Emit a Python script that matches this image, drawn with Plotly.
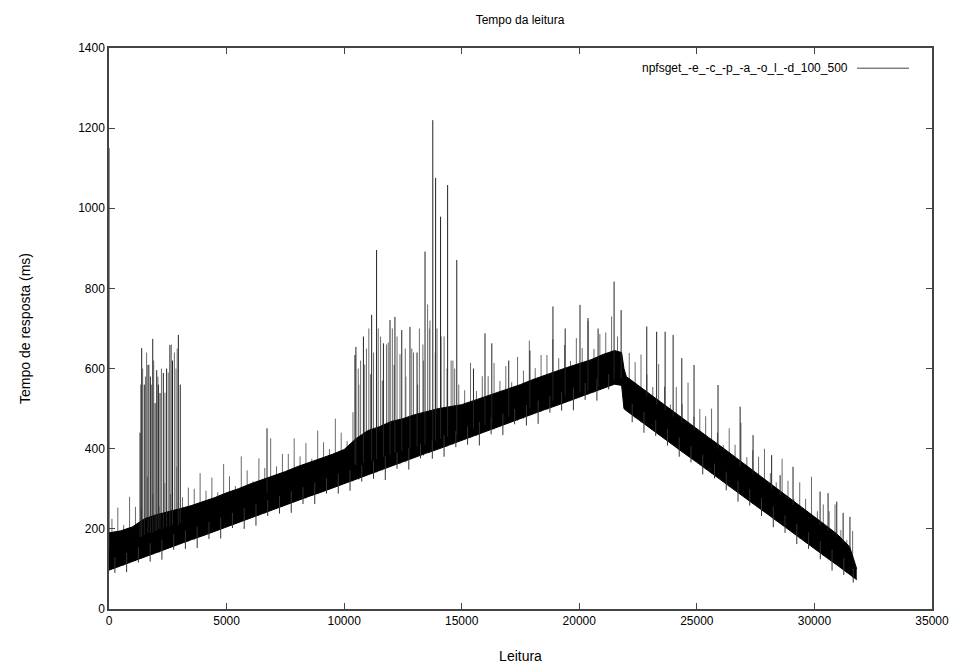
import plotly.graph_objects as go

# ---- data ----
band_x = [0, 500, 1000, 1500, 2000, 2500, 3000, 3500, 4000, 4500, 5000, 5500, 6000, 6500,
          7000, 7500, 8000, 8500, 9000, 9500, 10000, 10500, 11000, 11500, 12000, 12500,
          13000, 13500, 14000, 14500, 15000, 15500, 16000, 16500, 17000, 17500, 18000,
          18500, 19000, 19500, 20000, 20500, 21000, 21500, 21800, 21900, 22000, 22500,
          23000, 23500, 24000, 24500, 25000, 25500, 26000, 26500, 27000, 27500, 28000,
          28500, 29000, 29500, 30000, 30500, 31000, 31500, 31800]
band_low = [97, 108, 119, 129, 140, 151, 162, 173, 183, 194, 205, 216, 227, 237,
            248, 259, 270, 281, 291, 302, 313, 324, 335, 345, 356, 367,
            378, 389, 399, 410, 421, 432, 443, 453, 464, 475, 486,
            497, 507, 518, 529, 540, 551, 561, 558, 500, 495, 473,
            452, 430, 409, 387, 366, 344, 323, 301, 280, 258, 237,
            215, 194, 172, 151, 129, 108, 86, 73]
band_high = [190, 195, 205, 225, 235, 242, 250, 258, 268, 278, 290, 300, 312, 322,
             333, 343, 355, 365, 376, 386, 398, 425, 445, 455, 468, 475,
             485, 492, 500, 505, 510, 520, 530, 540, 550, 560, 572,
             583, 593, 603, 613, 622, 635, 645, 640, 600, 580, 558,
             538, 515, 494, 471, 450, 428, 407, 385, 364, 342, 320,
             298, 276, 254, 232, 208, 185, 155, 100]

# tall spikes: reading index, peak value, value at the band where the spike starts
spike_x = [0, 1320, 1390, 1500, 1660, 1760, 1860, 1960, 2030, 2100, 2170, 2310, 2450, 2590,
           2700, 2950, 3030, 6720, 10460, 10500, 10820, 11170, 11380, 11670, 11950, 12160,
           12450, 12800, 13100, 13440, 13770, 13890, 14100, 14400, 14790, 15500, 15990,
           16280, 17000, 17900, 18880, 19400, 20030, 20370, 20800, 21480, 21780, 22870,
           23290, 23650, 23990, 24360, 24880, 25900, 26840, 27390, 28180, 28540, 29090,
           30240, 30580, 30950, 31220, 31510]
spike_peak = [1150, 440, 651, 560, 609, 580, 674, 514, 596, 560, 539, 589, 600, 659,
              620, 684, 560, 451, 634, 654, 680, 734, 896, 663, 721, 729,
              696, 704, 640, 892, 1220, 1076, 979, 1058, 871, 600, 688,
              663, 620, 645, 755, 700, 759, 726, 700, 817, 746, 705,
              692, 692, 684, 626, 609, 559, 505, 434, 384, 334, 355,
              293, 289, 268, 240, 230]
spike_base = [150, 180, 180, 185, 190, 190, 190, 195, 195, 200, 200, 200, 205, 205,
              210, 210, 215, 290, 360, 360, 365, 370, 375, 380, 385, 390,
              395, 400, 405, 410, 420, 420, 425, 430, 435, 450, 460,
              465, 480, 500, 520, 530, 540, 545, 555, 570, 575, 530,
              510, 495, 480, 465, 445, 400, 355, 335, 300, 285, 260,
              210, 195, 180, 165, 150]

# grey noise above the dense band (reading, peak, start inside band)
noise_x = [125, 375, 625, 875, 1125, 1350, 1375, 1430, 1550, 1600, 1625, 1700, 1800, 1875,
           1900, 2080, 2125, 2230, 2375, 2380, 2520, 2625, 2650, 2780, 2850, 2875, 2900,
           3125, 3375, 3625, 3875, 4125, 4375, 4625, 4875, 5125, 5375, 5625, 5875, 6125,
           6375, 6625, 6875, 7125, 7375, 7625, 7875, 8125, 8375, 8625, 8875, 9125, 9375,
           9625, 9875, 10125, 10375, 10600, 10625, 10700, 10875, 10950, 11050, 11125,
           11250, 11375, 11450, 11550, 11625, 11800, 11875, 12050, 12125, 12250, 12375,
           12600, 12625, 12875, 12950, 13125, 13200, 13350, 13375, 13550, 13625, 13650,
           13875, 13950, 14125, 14250, 14375, 14550, 14625, 14700, 14875, 15125, 15375,
           15625, 15875, 16125, 16375, 16625, 16875, 17125, 17375, 17625, 17875, 18125,
           18375, 18625, 18875, 19125, 19375, 19625, 19875, 20125, 20375, 20625, 20875,
           21125, 21375, 21625, 22125, 22375, 22625, 22875, 23125, 23375, 23625, 23875,
           24125, 24375, 24625, 24875, 25125, 25375, 25625, 25875, 26125, 26375, 26625,
           26875, 27125, 27375, 27625, 27875, 28125, 28375, 28625, 28875, 29125, 29375,
           29625, 29875, 30125, 30375, 30625, 30875, 31125, 31375, 31625]
noise_peak = [225, 253, 210, 280, 255, 560, 249, 600, 580, 640, 330, 610, 560, 288,
              620, 580, 256, 600, 314, 540, 590, 287, 660, 640, 600, 355, 650,
              279, 303, 300, 339, 295, 328, 291, 362, 331, 307, 381, 346, 319,
              376, 352, 426, 356, 387, 387, 426, 381, 414, 375, 445, 416, 399,
              475, 440, 419, 491, 600, 560, 620, 610, 650, 700, 586,
              640, 640, 700, 680, 570, 660, 665, 700, 609, 680, 636,
              650, 580, 650, 640, 560, 700, 660, 620, 760, 700, 720,
              640, 700, 680, 680, 600, 620, 620, 600, 560, 546, 614,
              544, 581, 581, 614, 569, 606, 566, 629, 595, 670, 601,
              634, 634, 673, 626, 659, 619, 676, 651, 719, 649, 686,
              690, 730, 680, 639, 616, 635, 585, 554, 611, 555, 510,
              554, 511, 565, 480, 499, 481, 500, 440, 409, 451, 410,
              465, 379, 396, 380, 400, 339, 316, 375, 320, 274, 316,
              275, 330, 244, 261, 244, 261, 197, 172, 195]
noise_base = [100, 104, 108, 114, 120, 200, 128, 200, 200, 200, 133, 200, 200, 136,
              200, 200, 140, 200, 148, 200, 200, 155, 200, 200, 200, 162, 200,
              166, 168, 172, 180, 186, 190, 195, 205, 208, 212, 218, 228, 231,
              233, 238, 246, 251, 255, 262, 271, 274, 276, 282, 291, 295, 298,
              304, 313, 317, 318, 340, 323, 340, 333, 350, 350, 339,
              350, 341, 360, 360, 346, 370, 356, 370, 360, 380, 361,
              380, 366, 375, 390, 381, 390, 400, 383, 400, 389, 400,
              400, 410, 404, 410, 405, 420, 410, 420, 420, 425, 427,
              432, 444, 447, 448, 454, 466, 468, 470, 475, 487, 490,
              492, 497, 508, 511, 514, 519, 530, 533, 536, 540, 550,
              555, 559, 559, 489, 476, 466, 458, 447, 434, 424, 415,
              405, 391, 381, 372, 362, 349, 338, 329, 318, 305, 295,
              286, 276, 262, 252, 243, 232, 219, 209, 200, 190, 176,
              166, 157, 147, 133, 123, 114, 105, 90, 78]

# dips below the dense band (reading, lowest value, start inside band)
dip_x = [250, 750, 1250, 1750, 2250, 2750, 3250, 3750, 4250, 4750, 5250, 5750, 6250, 6750,
         7250, 7750, 8250, 8750, 9250, 9750, 10250, 10750, 11250, 11750, 12250, 12750,
         13250, 13750, 14250, 14750, 15250, 15750, 16250, 16750, 17250, 17750, 18250,
         18750, 19250, 19750, 20250, 20750, 21250, 22250, 22750, 23250, 23750, 24250,
         24750, 25250, 25750, 26250, 26750, 27250, 27750, 28250, 28750, 29250, 29750,
         30250, 30750, 31250, 31650]
dip_low = [90, 92, 116, 118, 123, 148, 150, 152, 175, 176, 202, 200, 208, 232,
           238, 240, 262, 262, 288, 288, 295, 318, 325, 322, 350, 348,
           376, 375, 380, 404, 410, 408, 436, 434, 461, 458, 462,
           490, 495, 496, 522, 520, 548, 466, 440, 432, 408, 380,
           366, 336, 326, 296, 268, 258, 232, 204, 190, 162, 150,
           124, 96, 85, 66]
dip_top = [130, 140, 154, 164, 173, 187, 196, 206, 217, 228, 240, 251, 261, 271,
           282, 294, 304, 315, 326, 337, 347, 358, 370, 381, 391, 401,
           412, 423, 434, 444, 456, 467, 477, 488, 499, 509, 520,
           531, 542, 553, 564, 574, 586, 512, 492, 471, 449, 428,
           406, 385, 363, 342, 320, 299, 277, 256, 234, 213, 191,
           170, 148, 127, 100]

legend_label = "npfsget_-e_-c_-p_-a_-o_l_-d_100_500"
x_ticks = [0, 5000, 10000, 15000, 20000, 25000, 30000, 35000]
y_ticks = [0, 200, 400, 600, 800, 1000, 1200, 1400]


def segments(xs, lows, highs):
    sx, sy = [], []
    for x, lo, hi in zip(xs, lows, highs):
        sx += [x, x, None]
        sy += [lo, hi, None]
    return sx, sy


fig = go.Figure()

nx, ny = segments(noise_x, noise_base, noise_peak)
fig.add_trace(go.Scatter(x=nx, y=ny, mode="lines",
                         line=dict(color="#6a6a6a", width=1), showlegend=False,
                         hoverinfo="skip"))

fig.add_trace(go.Scatter(x=band_x, y=band_low, mode="lines",
                         line=dict(color="black", width=1), showlegend=False,
                         hoverinfo="skip"))
fig.add_trace(go.Scatter(x=band_x, y=band_high, mode="lines", fill="tonexty",
                         fillcolor="black", line=dict(color="black", width=1),
                         showlegend=False, hoverinfo="skip"))

dx, dy = segments(dip_x, dip_low, dip_top)
fig.add_trace(go.Scatter(x=dx, y=dy, mode="lines",
                         line=dict(color="#333333", width=1), showlegend=False,
                         hoverinfo="skip"))

sx, sy = segments(spike_x, spike_base, spike_peak)
fig.add_trace(go.Scatter(x=sx, y=sy, mode="lines", name=legend_label,
                         line=dict(color="#222222", width=1), showlegend=False))

font = dict(family="Liberation Sans, Arial, sans-serif", size=12, color="black")

axis_common = dict(showline=True, linecolor="#444444", linewidth=1.5, mirror="ticks",
                   ticks="inside", ticklen=6, tickcolor="#444444", showgrid=False,
                   zeroline=False, tickfont=font, automargin=False)

fig.update_layout(
    width=963, height=664,
    margin=dict(l=109, r=31, t=48, b=55),
    paper_bgcolor="white", plot_bgcolor="white",
    font=font,
    title=dict(text="Tempo da leitura", x=0.54, xanchor="center", y=0.97,
               yanchor="middle", font=dict(size=12), automargin=False),
    xaxis=dict(range=[0, 35000], tickvals=x_ticks, ticktext=[str(v) for v in x_ticks],
               title=dict(text="Leitura", standoff=24), **axis_common),
    yaxis=dict(range=[0, 1400], tickvals=y_ticks, ticktext=[str(v) for v in y_ticks],
               title=dict(text="Tempo de resposta (ms)", standoff=44), **axis_common),
    showlegend=False,
)

# gnuplot-style key: label followed by a line sample, top right
fig.add_annotation(x=0.90, y=0.964, xref="paper", yref="paper", text=legend_label,
                   showarrow=False, xanchor="right", yanchor="middle", font=font)
fig.add_shape(type="line", xref="paper", yref="paper", x0=0.909, x1=0.972,
              y0=0.964, y1=0.964, line=dict(color="#444444", width=1))

fig.write_html("out.html")
